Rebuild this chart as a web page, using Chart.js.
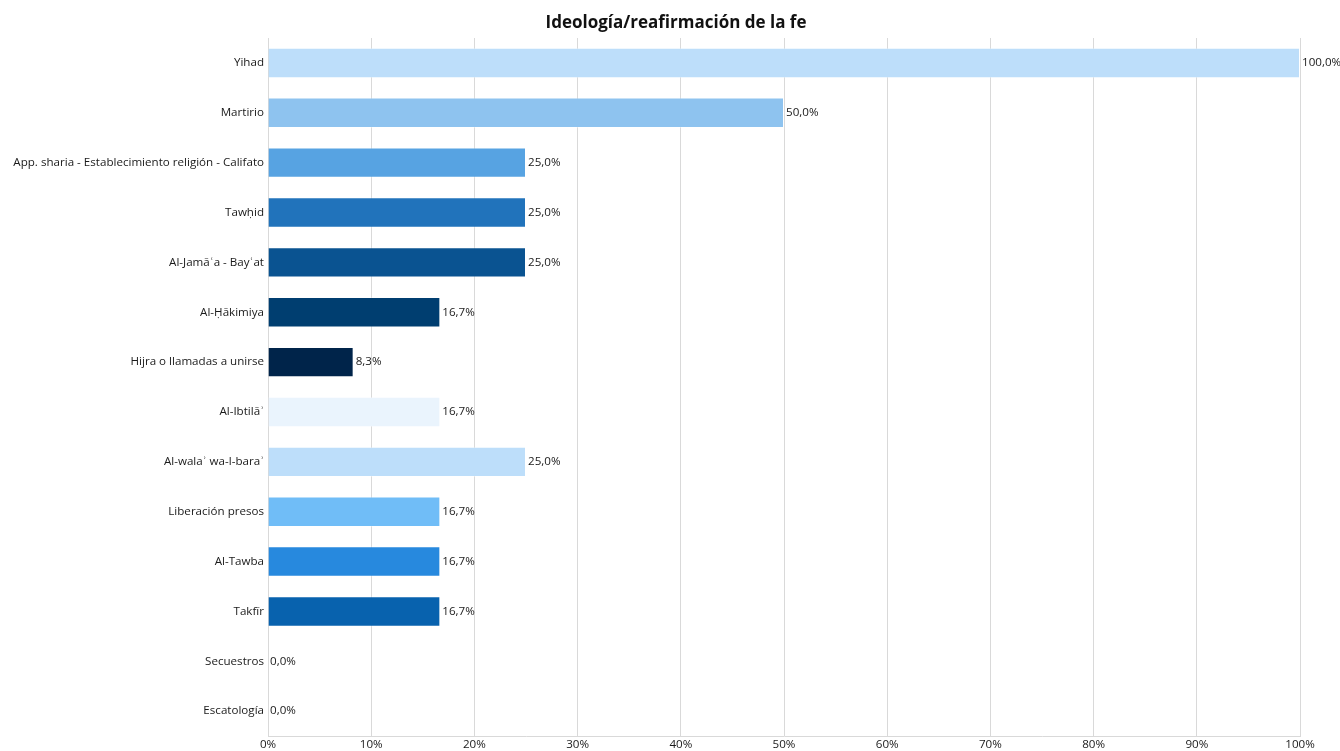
<!DOCTYPE html>
<html>
<head>
<meta charset="utf-8">
<script src="https://cdn.jsdelivr.net/npm/chart.js@4.4.1/dist/chart.umd.min.js"></script>
<style>
  html, body { margin: 0; padding: 0; background: #fff; }
  #wrap { width: 1340px; height: 751px; }
</style>
</head>
<body>
<div id="wrap"><canvas id="chartOne"></canvas></div>
<script>
/* categories and values */
const categories = [
    'Yihad',
    'Martirio',
    'App. sharia - Establecimiento religión - Califato',
    'Tawḥid',
    'Al-Jamāʿa - Bayʿat',
    'Al-Ḥākimiya',
    'Hijra o llamadas a unirse',
    'Al-Ibtilāʾ',
    'Al-walaʾ wa-l-baraʾ',
    'Liberación presos',
    'Al-Tawba',
    'Takfīr',
    'Secuestros',
    'Escatología'
];
const percentages = [100, 50, 25, 25, 25, 16.7, 8.3, 16.7, 25, 16.7, 16.7, 16.7, 0, 0];
const barColors = [
    '#bddefa', '#8ec3ef', '#57a3e2', '#2173bb', '#0a5391', '#003e70',
    '#00244a', '#eaf4fd', '#bddefa', '#70bdf7', '#2789de', '#0862ae', '#bddefa', '#bddefa'
];
const xTicks = [0, 10, 20, 30, 40, 50, 60, 70, 80, 90, 100];
const chartTitle = 'Ideología/reafirmación de la fe';

const fmt = v => v.toFixed(1).replace('.', ',') + '%';

// value labels at the end of each bar, and the title centred on the page
const valueLabels = {
    id: 'valueLabels',
    afterDatasetsDraw(chart) {
        const ctx = chart.ctx;
        const meta = chart.getDatasetMeta(0);
        ctx.save();
        ctx.font = '11.6px "Open Sans"';
        ctx.fillStyle = '#1a1a1a';
        ctx.textAlign = 'left';
        ctx.textBaseline = 'middle';
        meta.data.forEach((bar, i) => {
            ctx.fillText(fmt(percentages[i]), bar.x + 2, bar.y);
        });
        ctx.font = 'bold 17px "Open Sans"';
        ctx.fillStyle = '#111';
        ctx.textAlign = 'center';
        ctx.fillText(chartTitle, chart.width / 2 + 6, 23);
        ctx.restore();
    }
};

const chart1 = document.getElementById('chartOne').getContext('2d');
const myChart = new Chart(chart1, {
    type: 'bar',
    data: {
        labels: categories,
        datasets: [{
            data: percentages,
            backgroundColor: barColors,
            borderColor: 'rgba(255,255,255,0.35)',
            borderWidth: 1,
            barPercentage: 0.61,
            categoryPercentage: 1
        }]
    },
    options: {
        indexAxis: 'y',
        responsive: true,
        maintainAspectRatio: false,
        animation: false,
        layout: { padding: { left: 2, right: 40, top: 38, bottom: -3 } },
        plugins: {
            legend: { display: false },
            tooltip: { enabled: false },
            title: { display: false }
        },
        scales: {
            x: {
                min: 0,
                max: 100,
                afterBuildTicks: axis => { axis.ticks = xTicks.map(v => ({ value: v })); },
                ticks: {
                    callback: v => v + '%',
                    color: '#1a1a1a',
                    font: { family: '"Open Sans"', size: 11.6 },
                    padding: 2,
                    maxRotation: 0
                },
                grid: { color: '#d9d9d9', drawTicks: false },
                border: { color: '#d9d9d9' }
            },
            y: {
                afterFit: scale => { scale.width = 266; },
                ticks: {
                    color: '#1a1a1a',
                    font: { family: '"Open Sans"', size: 11.6 },
                    padding: 4,
                    autoSkip: false
                },
                grid: { display: false, drawTicks: false },
                border: { color: '#d9d9d9' }
            }
        }
    },
    plugins: [valueLabels]
});
</script>
</body>
</html>
